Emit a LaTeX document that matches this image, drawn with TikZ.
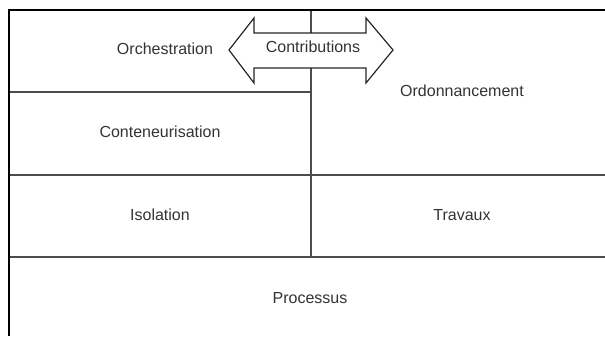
\documentclass[tikz,border=0pt]{standalone}
\usepackage{fontspec}
\setmainfont{Liberation Sans}
\usetikzlibrary{shapes.arrows}
\begin{document}
\begin{tikzpicture}[x=0.75pt,y=-0.75pt,
  grid/.style={draw=black!70,line width=1.3pt},
  frame/.style={draw=black,line width=1.5pt},
  lbl/.style={font=\fontsize{12}{14}\selectfont,text=black!80}]
\useasboundingbox (0,0) rectangle (605,336);
% cell separators
\draw[grid] (8.5,92) -- (311,92);
\draw[grid] (8.5,175) -- (605,175);
\draw[grid] (8.5,257) -- (605,257);
\draw[grid] (311,9.5) -- (311,257);
% outer frame (top and left)
\draw[frame] (605,9.5) -- (8.5,9.5) -- (8.5,336);
% double arrow
\coordinate (lt) at (229,50);
\coordinate (rt) at (393,50);
\draw[draw=black!85,fill=white,line width=0.9pt,line join=miter]
  (lt) -- (254,18) -- (254,33) -- (366,33) -- (366,18) -- (rt)
  -- (366,83) -- (366,68) -- (254,68) -- (254,83) -- cycle;
% labels
\node[lbl] (orch) at (165,49) {Orchestration};
\node[lbl] (contrib) at (313,47) {Contributions};
\node[lbl] (ordo) at (462,91) {Ordonnancement};
\node[lbl] (cont) at (160,132) {Conteneurisation};
\node[lbl] (iso) at (160,215) {Isolation};
\node[lbl] (trav) at (462,215) {Travaux};
\node[lbl] (proc) at (310,298) {Processus};
\end{tikzpicture}
\end{document}
